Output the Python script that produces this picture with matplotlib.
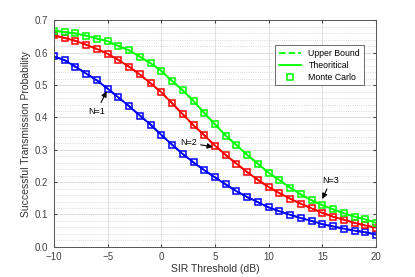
import numpy as np
import matplotlib
matplotlib.use('Agg')
import matplotlib.pyplot as plt
from matplotlib.ticker import MultipleLocator

plt.rcParams['font.family'] = ['Liberation Sans', 'DejaVu Sans']

# ===== ДАНІ =====
sir_db = list(range(-10, 21))

p_n1 = [0.589, 0.577, 0.557, 0.536, 0.515, 0.489, 0.462, 0.435, 0.406, 0.378,
        0.346, 0.316, 0.287, 0.261, 0.237, 0.215, 0.193, 0.172, 0.154, 0.138,
        0.122, 0.110, 0.099, 0.089, 0.080, 0.070, 0.063, 0.056, 0.050, 0.045,
        0.038]
p_n2 = [0.654, 0.646, 0.637, 0.625, 0.612, 0.597, 0.578, 0.557, 0.533, 0.506,
        0.478, 0.444, 0.410, 0.376, 0.345, 0.313, 0.284, 0.257, 0.231, 0.207,
        0.185, 0.166, 0.149, 0.133, 0.119, 0.105, 0.093, 0.084, 0.074, 0.066,
        0.059]
p_n3 = [0.669, 0.664, 0.660, 0.653, 0.644, 0.636, 0.621, 0.608, 0.588, 0.568,
        0.544, 0.513, 0.484, 0.451, 0.414, 0.379, 0.344, 0.315, 0.284, 0.257,
        0.229, 0.206, 0.183, 0.162, 0.144, 0.129, 0.116, 0.104, 0.093, 0.085,
        0.074]

series = [(p_n1, 'b'), (p_n2, 'r'), (p_n3, '#00ff00')]

# ===== ГРАФІК =====
fig = plt.figure(figsize=(4.15, 2.77), dpi=100)
ax = fig.add_axes([0.130, 0.109, 0.776, 0.817])

for vals, c in series:
    ax.plot(sir_db, vals, '--', color=c, lw=1.3, label='Upper Bound')
    ax.plot(sir_db, vals, '-', color=c, lw=1.3, label='Theoritical')
    ax.plot(sir_db, vals, 's', color=c, mfc='none', mew=1.1, ms=4.6,
            label='Monte Carlo')

ax.set_xlim(-10, 20)
ax.set_ylim(0, 0.7)
ax.xaxis.set_major_locator(MultipleLocator(5))
ax.yaxis.set_major_locator(MultipleLocator(0.1))
ax.yaxis.set_minor_locator(MultipleLocator(0.02))
ax.grid(True, which='major', color='#dddddd', lw=0.7)
ax.grid(True, which='minor', axis='y', color='#cccccc', lw=0.6, ls=':')
ax.set_axisbelow(True)
ax.tick_params(which='both', direction='in', top=True, right=True,
               labelsize=7, colors='#444444', length=2.5, pad=4)
ax.tick_params(which='minor', length=0)
for s in ax.spines.values():
    s.set_color('#555555')
    s.set_linewidth(0.7)

ax.set_xlabel('SIR Threshold (dB)', fontsize=7.5, color='#333333', labelpad=1)
ax.set_ylabel('Successful Transmission Probability', fontsize=7.5,
              color='#333333', labelpad=3)

# анотації
arrow = dict(arrowstyle='-|>', color='black', lw=0.8, mutation_scale=8,
             shrinkA=1, shrinkB=0)
ax.annotate('N=1', xy=(-5.1, 0.481), xytext=(-6.0, 0.42), fontsize=6.5,
            ha='center', va='center', arrowprops=arrow)
ax.annotate('N=2', xy=(4.8, 0.309), xytext=(2.5, 0.322), fontsize=6.5,
            ha='center', va='center', arrowprops=arrow)
ax.annotate('N=3', xy=(15.0, 0.148), xytext=(15.8, 0.205), fontsize=6.5,
            ha='center', va='center', arrowprops=arrow)

handles, labels = ax.get_legend_handles_labels()
leg = ax.legend(handles[6:9], labels[6:9], loc='upper right',
                bbox_to_anchor=(0.975, 0.91), fontsize=6.3, fancybox=False,
                edgecolor='#555555', framealpha=1, handlelength=2.6,
                borderpad=0.4, labelspacing=0.35)
leg.get_frame().set_linewidth(0.6)

fig.savefig('out.png', dpi=100)
